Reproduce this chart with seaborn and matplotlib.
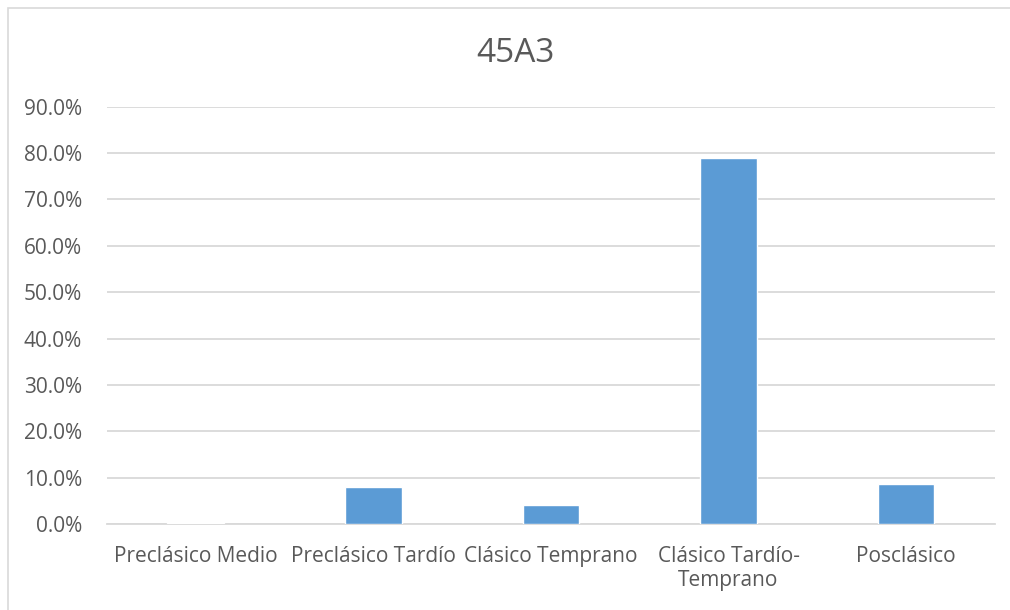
import pandas as pd
import seaborn as sns
import matplotlib.pyplot as plt
from matplotlib.ticker import PercentFormatter
from matplotlib.patches import Rectangle

periodos = ['Preclásico Medio', 'Preclásico Tardío', 'Clásico Temprano',
            'Clásico Tardío-\nTemprano', 'Posclásico']
porcentaje = [0.003, 0.079, 0.041, 0.789, 0.087]
titulo = '45A3'

sns.set_theme(style='white')
plt.rcParams['font.family'] = ['Open Sans', 'DejaVu Sans']
gris = '#595959'

df = pd.DataFrame({'periodo': periodos, 'pct': porcentaje})

fig = plt.figure(figsize=(10.1, 6.1), dpi=100)
ax = fig.add_axes([0.106, 0.141, 0.879, 0.684])
sns.barplot(data=df, x='periodo', y='pct', color='#5B9BD5', width=0.32,
            saturation=1, ax=ax, zorder=3)

ax.set_ylim(0, 0.9)
ax.set_yticks([i / 10 for i in range(10)])
ax.yaxis.set_major_formatter(PercentFormatter(1.0, decimals=1))
ax.grid(axis='y', color='#D9D9D9', linewidth=1.3, zorder=0)
ax.set_xlabel('')
ax.set_ylabel('')
for s in ['left', 'right', 'top']:
    ax.spines[s].set_visible(False)
ax.spines['bottom'].set_color('#D9D9D9')
ax.spines['bottom'].set_linewidth(1.3)
ax.tick_params(axis='both', length=0, labelsize=15, labelcolor=gris)
ax.tick_params(axis='y', pad=18)
ax.tick_params(axis='x', pad=16)
for t in ax.get_xticklabels():
    t.set_linespacing(1.15)

fig.text(0.51, 0.912, titulo, ha='center', va='center', fontsize=24, color=gris)
fig.patches.append(Rectangle((8 / 1010, -0.01), 1.1, 1 - 8 / 610 + 0.01,
                             transform=fig.transFigure, fill=False,
                             edgecolor='#D9D9D9', linewidth=1.2))

fig.savefig('out.png', dpi=100)
